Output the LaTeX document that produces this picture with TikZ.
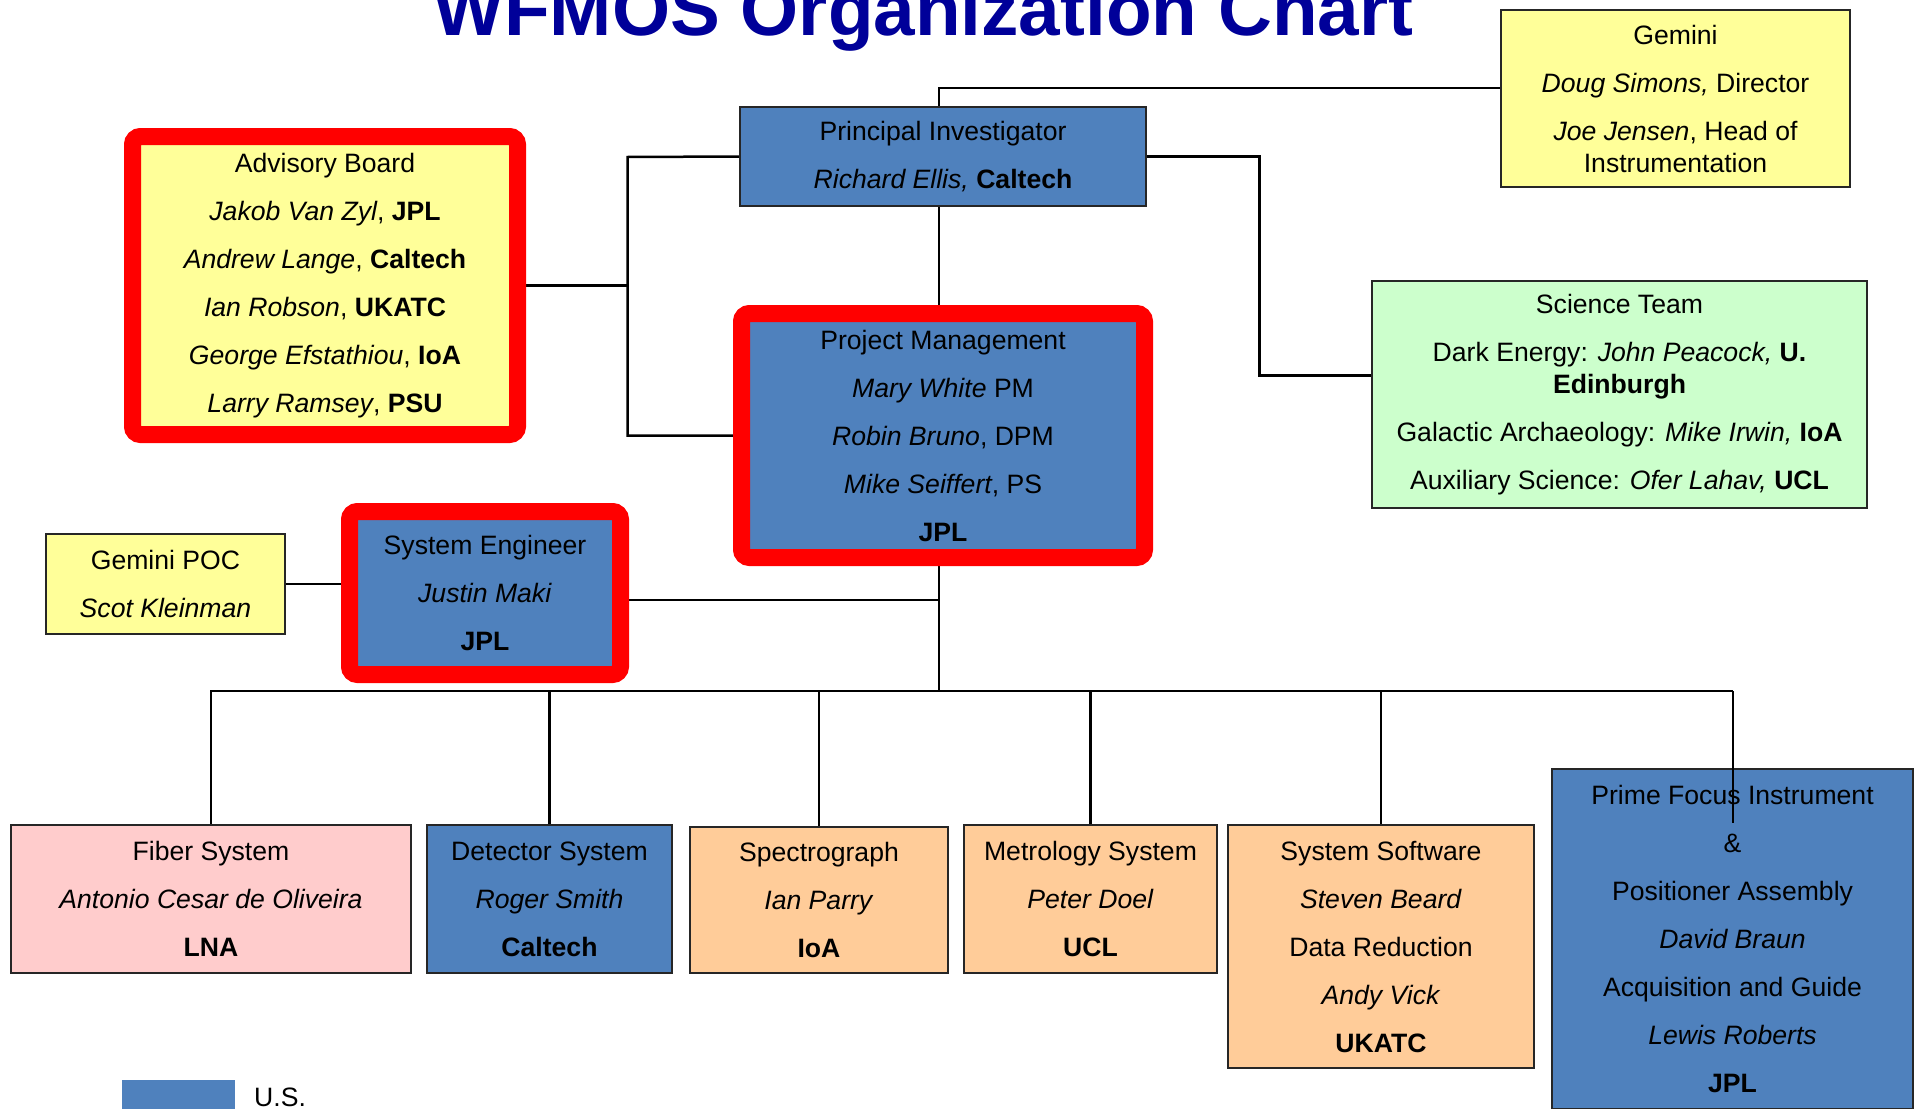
\documentclass[tikz,border=0pt]{standalone}
\usepackage{fontspec}
\setmainfont{Liberation Sans}
\usetikzlibrary{positioning,backgrounds}
\definecolor{box_blue}{RGB}{79,129,189}
\definecolor{box_yell}{RGB}{255,255,153}
\definecolor{box_green}{RGB}{204,255,204}
\definecolor{box_pink}{RGB}{255,204,204}
\definecolor{box_orange}{RGB}{255,204,153}
\definecolor{frame_red}{RGB}{255,0,0}
\definecolor{title_blue}{RGB}{0,0,153}
\newcommand\boxfont{\fontsize{26.6}{32}\selectfont}
\newcommand\linegap{\\[16pt]}
\begin{document}
\begin{tikzpicture}[x=1pt,y=-1pt]
    \tikzstyle{unit}=[draw=black!85,line width=2.5pt,inner sep=0pt,align=center,text=black,font=\boxfont]
    \tikzstyle{unitbl}=[style=unit,fill=box_blue]
    \tikzstyle{unityl}=[style=unit,fill=box_yell]
    \tikzstyle{unitgr}=[style=unit,fill=box_green]
    \tikzstyle{unitpk}=[style=unit,fill=box_pink]
    \tikzstyle{unitor}=[style=unit,fill=box_orange]
    \tikzstyle{redframe}=[draw=frame_red,line width=17pt,rounded corners=8pt]
    \tikzstyle{link}=[draw=black,line width=2.5pt]

    \useasboundingbox (0,0) rectangle (1918,1108);
    \clip (0,0) rectangle (1918,1108);

    \node[font=\fontsize{74.7}{80}\selectfont\bfseries,text=title_blue,anchor=base] (title) at (923.5,36) {WFMOS Organization Chart};

    \node[unityl,minimum width=349,minimum height=177] (gemini) at (1675.5,98.5) {Gemini\linegap\textit{Doug Simons,} Director\linegap\textit{Joe Jensen}, Head of\\Instrumentation};
    \node[unitbl,minimum width=406,minimum height=99] (pi) at (943,156.5) {Principal Investigator\linegap\textit{Richard Ellis,} \textbf{Caltech}};
    \node[unityl,redframe,minimum width=385,minimum height=298] (advisory) at (325,285.5) {Advisory Board\linegap\textit{Jakob Van Zyl}, \textbf{JPL}\linegap\textit{Andrew Lange}, \textbf{Caltech}\linegap\textit{Ian Robson}, \textbf{UKATC}\linegap\textit{George Efstathiou}, \textbf{IoA}\linegap\textit{Larry Ramsey}, \textbf{PSU}};
    \node[unitbl,redframe,minimum width=403,minimum height=244] (pm) at (943,435.5) {Project Management\linegap\textit{Mary White} PM\linegap\textit{Robin Bruno}, DPM\linegap\textit{Mike Seiffert}, PS\linegap\textbf{JPL}};
    \node[unitgr,minimum width=495,minimum height=227] (science) at (1619.5,394.5) {Science Team\linegap Dark Energy: \textit{John Peacock,} \textbf{U.}\\\textbf{Edinburgh}\linegap Galactic Archaeology: \textit{Mike Irwin,} \textbf{IoA}\linegap Auxiliary Science: \textit{Ofer Lahav,} \textbf{UCL}};
    \node[unityl,minimum width=239,minimum height=100] (poc) at (165.5,584) {Gemini POC\linegap\textit{Scot Kleinman}};
    \node[unitbl,redframe,minimum width=271,minimum height=163] (sysEng) at (485,593) {System Engineer\linegap\textit{Justin Maki}\linegap\textbf{JPL}};

    \node[unitpk,minimum width=400,minimum height=148] (fiber) at (211,899) {Fiber System\linegap\textit{Antonio Cesar de Oliveira}\linegap\textbf{LNA}};
    \node[unitbl,minimum width=245,minimum height=148] (detector) at (549.5,899) {Detector System\linegap\textit{Roger Smith}\linegap\textbf{Caltech}};
    \node[unitor,minimum width=258,minimum height=146] (spectro) at (819,900) {Spectrograph\linegap\textit{Ian Parry}\linegap\textbf{IoA}};
    \node[unitor,minimum width=253,minimum height=148] (metrology) at (1090.5,899) {Metrology System\linegap\textit{Peter Doel}\linegap\textbf{UCL}};
    \node[unitor,minimum width=306,minimum height=243] (software) at (1381,946.5) {System Software\linegap\textit{Steven Beard}\linegap Data Reduction\linegap\textit{Andy Vick}\linegap\textbf{UKATC}};
    \node[unitbl,minimum width=361,minimum height=340] (prime) at (1732.5,939) {Prime Focus Instrument\linegap\&\linegap Positioner Assembly\linegap\textit{David Braun}\linegap Acquisition and Guide\linegap\textit{Lewis Roberts}\linegap\textbf{JPL}};

    % legend
    \node[fill=box_blue,minimum width=112.5,minimum height=60,inner sep=0pt,anchor=north west] (legendkey) at (122,1080) {};
    \node[font=\boxfont,anchor=base west,inner sep=0pt] (legendlabel) at (254,1106) {U.S.};

    \begin{scope}[on background layer]
    \fill[white] (0,0) rectangle (1918,1108);
    \coordinate (hub) at (939,691);
    \coordinate (leftbus) at (627.5,157);
    \draw[link] ([xshift=-4pt]pi.north) |- ([yshift=10.5pt]gemini.west);
    \draw[link] (pi.west) -- (leftbus) |- (pm.west);
    \draw[link] (advisory.east) -- (advisory.east -| leftbus);
    \draw[link] (pi.east) -- ++(112,0) |- ([yshift=19pt]science.west);
    \draw[link] ([xshift=-4pt]pi.south) -- ([xshift=-4pt]pm.north);
    \draw[link] (poc.east) -- (poc.east -| sysEng.west);
    \draw[link] ([xshift=-4pt]pm.south) -- (hub);
    \draw[link] ([yshift=-7pt]sysEng.east) -- ([yshift=-7pt]sysEng.east -| hub);
    \draw[link] (fiber.north) -- (fiber.north |- hub) -- (prime.north |- hub);
    \foreach \n in {detector,spectro,metrology,software}
      \draw[link] (\n.north) -- (\n.north |- hub);
    \end{scope}
    % drop into the prime focus box, over it
    \draw[link,line width=2pt] (prime.north |- hub) -- ([yshift=-55pt]prime.north);
\end{tikzpicture}
\end{document}
